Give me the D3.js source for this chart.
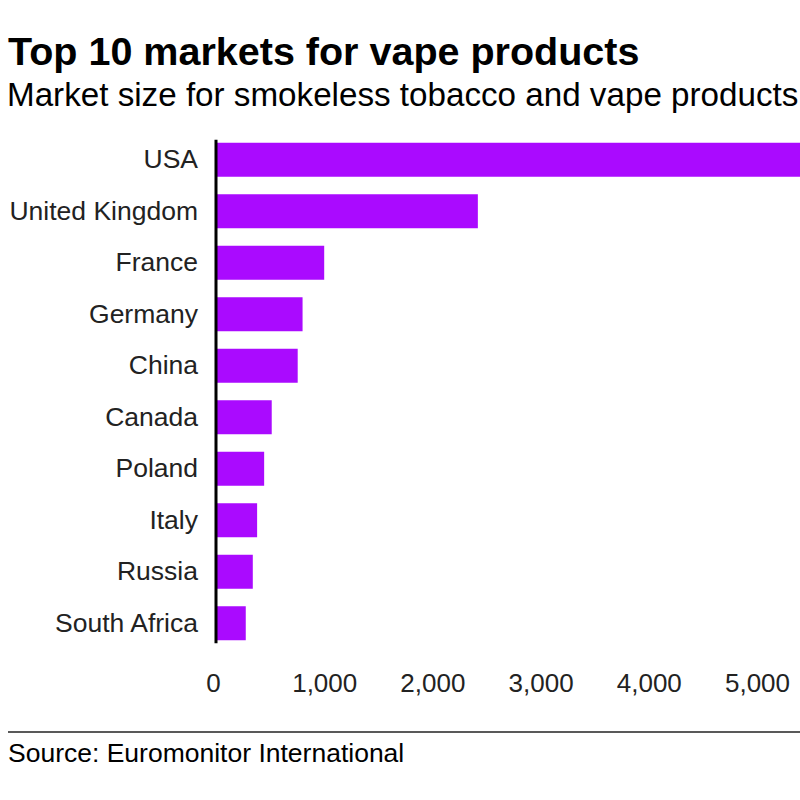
<!DOCTYPE html>
<html>
<head>
<meta charset="utf-8">
<script src="https://cdn.jsdelivr.net/npm/d3@7"></script>
<style>
  body { margin: 0; background: #fff; }
  svg { font-family: "Liberation Sans", Arial, sans-serif; display: block; }
</style>
</head>
<body>
<div id="chart"></div>
<script>
// data (USA bar runs off the edge)
const countries = ["USA", "United Kingdom", "France", "Germany", "China",
                   "Canada", "Poland", "Italy", "Russia", "South Africa"];
const marketSize = [10300, 2420, 1000, 800, 755, 515, 445, 380, 340, 275];
const xTicks = [0, 1000, 2000, 3000, 4000, 5000];

const width = 800, height = 800;

const svg = d3.select("#chart")
  .append("svg")
    .attr("width", width)
    .attr("height", height);

// title + subtitle
svg.append("text")
  .attr("x", 8)
  .attr("y", 65)
  .style("font-size", "39.5px")
  .style("font-weight", "bold")
  .style("fill", "#000")
  .text("Top 10 markets for vape products");

svg.append("text")
  .attr("x", 7)
  .attr("y", 106)
  .style("font-size", "33.2px")
  .style("fill", "#000")
  .text("Market size for smokeless tobacco and vape products");

// scales
const x = d3.scaleLinear()
  .domain([0, 5000])
  .range([216, 757]);

const y = d3.scaleBand()
  .domain(countries)
  .range([134, 649])
  .paddingInner(0.34)
  .paddingOuter(0.17);

const data = countries.map((c, i) => ({ country: c, value: marketSize[i] }));

// bars
svg.append("g")
  .selectAll("rect")
  .data(data)
  .enter()
  .append("rect")
    .attr("x", x(0))
    .attr("y", d => y(d.country))
    .attr("width", d => x(d.value) - x(0))
    .attr("height", y.bandwidth())
    .attr("fill", "#aa0aff");

// y axis: labels + the black baseline
const yAxis = svg.append("g")
  .attr("transform", `translate(${x(0)},0)`)
  .call(d3.axisLeft(y).tickSize(0).tickPadding(18));
yAxis.select(".domain").remove();
yAxis.selectAll("text")
  .style("font-size", "26.5px")
  .style("font-family", "Liberation Sans, Arial, sans-serif")
  .style("fill", "#222");

svg.append("line")
  .attr("x1", x(0))
  .attr("x2", x(0))
  .attr("y1", y(countries[0]) - 3)
  .attr("y2", y(countries[countries.length - 1]) + y.bandwidth() + 3)
  .attr("stroke", "#000")
  .attr("stroke-width", 3);

// x axis, labels only
const xAxis = svg.append("g")
  .attr("transform", `translate(0,${671})`)
  .call(d3.axisBottom(x).tickValues(xTicks).tickSize(0).tickFormat(d3.format(",")));
xAxis.select(".domain").remove();
xAxis.selectAll("text")
  .attr("x", d => d === 0 ? -3 : 0)
  .style("font-size", "26px")
  .style("font-family", "Liberation Sans, Arial, sans-serif")
  .style("fill", "#222");

// footer
svg.append("line")
  .attr("x1", 8)
  .attr("x2", 800)
  .attr("y1", 732)
  .attr("y2", 732)
  .attr("stroke", "#222")
  .attr("stroke-width", 1.5);

svg.append("text")
  .attr("x", 8)
  .attr("y", 762)
  .style("font-size", "26.5px")
  .style("fill", "#000")
  .text("Source: Euromonitor International");
</script>
</body>
</html>
